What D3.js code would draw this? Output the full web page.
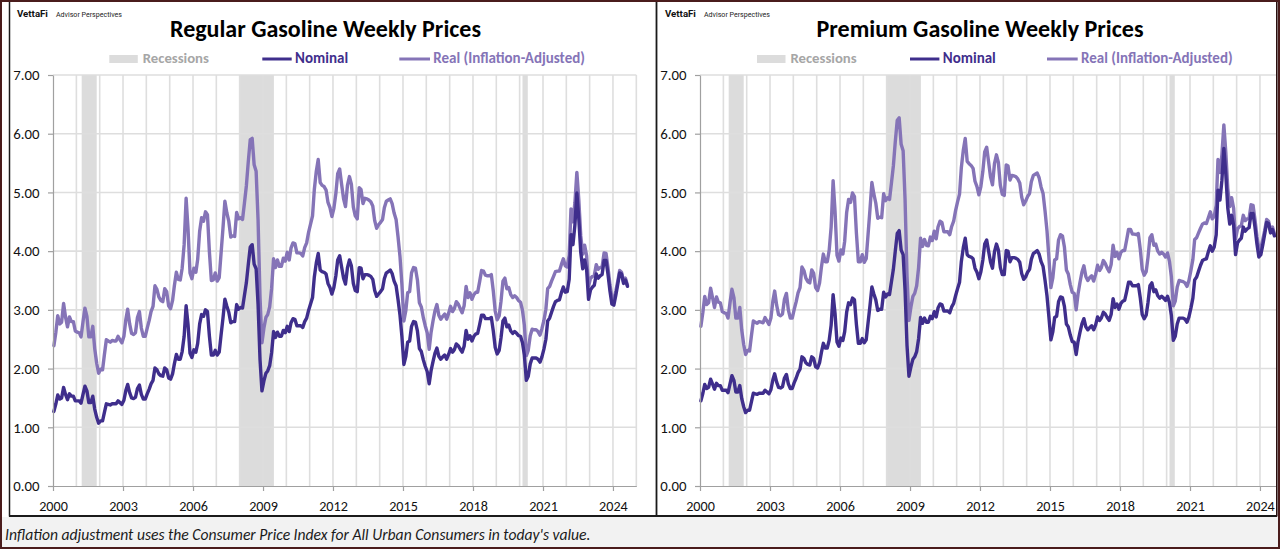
<!DOCTYPE html>
<html><head><meta charset="utf-8">
<script src="https://cdn.jsdelivr.net/npm/d3@7"></script>
<style>html,body{margin:0;padding:0;background:#fff;}svg{display:block}</style>
</head><body>
<svg id="c" width="1280" height="549"></svg>
<script>
// ---- Data (monthly, Jan 2000 - Aug 2024), $ per gallon ----
const startMonth = "2000-01";
const endMonth = "2024-08";

const regularNominal = [
1.27,1.40,1.55,1.48,1.50,1.68,1.56,1.47,1.57,1.53,1.53,1.45,
1.45,1.45,1.41,1.56,1.70,1.62,1.42,1.42,1.53,1.31,1.17,1.07,
1.11,1.11,1.25,1.40,1.39,1.38,1.40,1.40,1.40,1.45,1.42,1.39,
1.46,1.63,1.73,1.59,1.50,1.49,1.51,1.66,1.72,1.56,1.48,1.48,
1.57,1.65,1.74,1.80,2.01,1.98,1.91,1.88,1.87,2.01,1.98,1.84,
1.82,1.91,2.08,2.24,2.16,2.16,2.29,2.55,3.07,2.75,2.26,2.19,
2.32,2.28,2.43,2.76,2.92,2.89,3.00,2.97,2.55,2.23,2.23,2.31,
2.23,2.28,2.56,2.86,3.18,3.06,2.96,2.78,2.80,2.80,3.09,3.01,
3.04,3.03,3.24,3.46,3.77,4.07,4.11,3.78,3.70,3.10,2.15,1.62,
1.79,1.92,1.96,2.05,2.27,2.63,2.53,2.62,2.55,2.55,2.65,2.61,
2.72,2.63,2.78,2.85,2.84,2.73,2.73,2.73,2.70,2.80,2.86,2.99,
3.10,3.21,3.56,3.80,3.96,3.68,3.65,3.64,3.61,3.45,3.38,3.27,
3.38,3.58,3.85,3.92,3.73,3.54,3.44,3.72,3.85,3.75,3.45,3.33,
3.31,3.72,3.71,3.53,3.60,3.60,3.59,3.57,3.52,3.33,3.23,3.27,
3.31,3.36,3.53,3.63,3.65,3.68,3.62,3.49,3.41,3.18,2.91,2.55,
2.07,2.21,2.45,2.47,2.72,2.80,2.79,2.64,2.34,2.29,2.15,2.04,
1.95,1.74,1.96,2.12,2.26,2.35,2.21,2.16,2.20,2.23,2.16,2.24,
2.34,2.28,2.32,2.42,2.39,2.33,2.28,2.38,2.65,2.50,2.56,2.47,
2.55,2.59,2.60,2.75,2.91,2.91,2.85,2.85,2.85,2.87,2.64,2.36,
2.25,2.31,2.52,2.81,2.86,2.71,2.74,2.64,2.60,2.63,2.60,2.56,
2.55,2.44,2.23,1.80,1.87,2.08,2.18,2.18,2.18,2.16,2.11,2.20,
2.33,2.50,2.81,2.86,2.96,3.06,3.14,3.16,3.17,3.29,3.39,3.30,
3.31,3.52,4.28,4.11,4.44,4.99,4.56,3.98,3.70,3.85,3.68,3.18,
3.34,3.39,3.42,3.61,3.54,3.58,3.60,3.84,3.84,3.61,3.32,3.10,
3.08,3.25,3.43,3.63,3.61,3.45,3.51,3.40
];

const regularReal = [
2.39,2.62,2.90,2.76,2.79,3.11,2.88,2.71,2.88,2.80,2.80,2.64,
2.62,2.61,2.54,2.80,3.03,2.89,2.54,2.54,2.72,2.34,2.09,1.92,
1.99,1.98,2.23,2.49,2.47,2.45,2.48,2.47,2.47,2.55,2.49,2.44,
2.55,2.84,3.01,2.76,2.60,2.58,2.61,2.87,2.97,2.69,2.55,2.55,
2.69,2.82,2.97,3.06,3.41,3.35,3.22,3.16,3.14,3.36,3.31,3.07,
3.02,3.16,3.41,3.64,3.52,3.51,3.71,4.11,4.90,4.38,3.63,3.53,
3.71,3.64,3.86,4.34,4.57,4.51,4.67,4.62,3.98,3.50,3.51,3.63,
3.49,3.55,3.95,4.39,4.85,4.65,4.51,4.24,4.26,4.25,4.66,4.55,
4.57,4.54,4.81,5.11,5.52,5.90,5.92,5.47,5.36,4.54,3.21,2.44,
2.69,2.87,2.92,3.05,3.36,3.87,3.72,3.85,3.74,3.74,3.88,3.83,
3.98,3.85,4.05,4.14,4.13,3.97,3.97,3.96,3.92,4.06,4.14,4.32,
4.46,4.60,5.05,5.36,5.56,5.17,5.12,5.10,5.04,4.83,4.74,4.59,
4.73,4.98,5.32,5.40,5.14,4.89,4.76,5.12,5.27,5.14,4.75,4.60,
4.55,5.08,5.05,4.81,4.90,4.89,4.87,4.84,4.77,4.52,4.39,4.45,
4.49,4.54,4.74,4.85,4.87,4.89,4.81,4.65,4.54,4.25,3.91,3.44,
2.81,2.99,3.29,3.31,3.63,3.72,3.71,3.51,3.12,3.05,2.87,2.73,
2.61,2.33,2.61,2.81,2.98,3.09,2.91,2.84,2.89,2.93,2.84,2.94,
3.06,2.97,3.02,3.14,3.10,3.02,2.95,3.07,3.40,3.21,3.29,3.18,
3.26,3.30,3.30,3.48,3.67,3.66,3.59,3.58,3.58,3.60,3.32,2.98,
2.83,2.90,3.14,3.49,3.54,3.36,3.38,3.26,3.21,3.24,3.21,3.16,
3.13,2.99,2.74,2.22,2.31,2.56,2.67,2.66,2.66,2.63,2.57,2.68,
2.82,3.01,3.36,3.40,3.49,3.57,3.65,3.66,3.66,3.77,3.87,3.75,
3.73,3.93,4.72,4.50,4.82,5.34,4.88,4.26,3.95,4.10,3.92,3.40,
3.54,3.57,3.59,3.77,3.69,3.72,3.73,3.97,3.96,3.72,3.43,3.21,
3.17,3.32,3.48,3.67,3.64,3.48,3.54,3.42
];

const premiumNominal = [
1.45,1.58,1.73,1.66,1.68,1.82,1.74,1.65,1.75,1.71,1.71,1.63,
1.63,1.63,1.59,1.74,1.88,1.80,1.60,1.60,1.71,1.49,1.35,1.25,
1.29,1.29,1.43,1.58,1.57,1.56,1.58,1.58,1.58,1.63,1.60,1.57,
1.64,1.81,1.91,1.77,1.68,1.67,1.69,1.84,1.90,1.74,1.66,1.66,
1.76,1.84,1.93,1.99,2.20,2.17,2.10,2.07,2.06,2.20,2.17,2.03,
2.01,2.10,2.27,2.43,2.35,2.35,2.48,2.74,3.26,2.94,2.45,2.38,
2.52,2.48,2.63,2.96,3.12,3.09,3.20,3.17,2.75,2.43,2.43,2.51,
2.44,2.49,2.77,3.07,3.39,3.27,3.17,2.99,3.01,3.01,3.30,3.22,
3.27,3.26,3.47,3.69,4.00,4.30,4.35,4.02,3.94,3.34,2.39,1.87,
2.03,2.16,2.20,2.29,2.51,2.87,2.77,2.86,2.79,2.79,2.89,2.85,
2.97,2.88,3.03,3.10,3.09,2.98,2.98,2.98,2.95,3.05,3.11,3.24,
3.36,3.47,3.82,4.06,4.22,3.94,3.91,3.90,3.87,3.71,3.64,3.53,
3.65,3.85,4.12,4.19,4.00,3.81,3.71,3.99,4.12,4.02,3.72,3.60,
3.60,4.01,4.00,3.82,3.89,3.89,3.88,3.86,3.81,3.62,3.52,3.56,
3.64,3.69,3.86,3.96,3.98,4.01,3.95,3.82,3.74,3.51,3.24,2.88,
2.49,2.63,2.87,2.89,3.14,3.22,3.21,3.06,2.76,2.71,2.57,2.46,
2.45,2.24,2.46,2.62,2.76,2.85,2.71,2.66,2.70,2.73,2.66,2.74,
2.88,2.82,2.86,2.96,2.93,2.87,2.82,2.92,3.19,3.04,3.10,3.01,
3.11,3.15,3.16,3.31,3.47,3.47,3.41,3.41,3.41,3.43,3.20,2.92,
2.85,2.91,3.12,3.41,3.46,3.31,3.34,3.24,3.20,3.23,3.20,3.16,
3.23,3.12,2.91,2.48,2.55,2.76,2.86,2.86,2.86,2.84,2.79,2.88,
3.03,3.20,3.51,3.56,3.66,3.76,3.84,3.86,3.87,3.99,4.09,4.00,
4.07,4.28,5.04,4.87,5.20,5.75,5.32,4.74,4.46,4.61,4.44,3.94,
4.14,4.19,4.22,4.41,4.34,4.38,4.40,4.64,4.64,4.41,4.12,3.90,
3.94,4.11,4.29,4.49,4.47,4.31,4.37,4.26
];

const premiumReal = [
2.72,2.96,3.23,3.09,3.12,3.37,3.21,3.04,3.22,3.13,3.12,2.97,
2.95,2.94,2.86,3.12,3.35,3.21,2.86,2.86,3.04,2.66,2.41,2.24,
2.31,2.30,2.55,2.81,2.79,2.77,2.80,2.79,2.78,2.87,2.81,2.75,
2.86,3.15,3.32,3.08,2.92,2.90,2.93,3.18,3.28,3.00,2.86,2.86,
3.01,3.14,3.29,3.38,3.73,3.67,3.54,3.48,3.46,3.68,3.62,3.38,
3.33,3.46,3.72,3.95,3.82,3.82,4.01,4.41,5.20,4.68,3.93,3.83,
4.02,3.95,4.17,4.66,4.88,4.83,4.99,4.93,4.30,3.82,3.82,3.94,
3.81,3.87,4.27,4.71,5.17,4.97,4.82,4.56,4.58,4.57,4.98,4.86,
4.91,4.88,5.15,5.45,5.86,6.23,6.27,5.82,5.71,4.89,3.57,2.82,
3.05,3.23,3.28,3.41,3.72,4.22,4.08,4.20,4.10,4.09,4.24,4.18,
4.34,4.21,4.41,4.51,4.49,4.33,4.33,4.33,4.28,4.42,4.51,4.69,
4.84,4.97,5.42,5.72,5.92,5.53,5.49,5.46,5.41,5.19,5.10,4.96,
5.10,5.36,5.69,5.77,5.52,5.26,5.13,5.49,5.64,5.51,5.12,4.97,
4.95,5.47,5.45,5.21,5.29,5.28,5.27,5.23,5.16,4.92,4.79,4.85,
4.93,4.98,5.18,5.29,5.31,5.33,5.25,5.09,4.98,4.69,4.35,3.89,
3.38,3.55,3.85,3.87,4.19,4.28,4.26,4.07,3.68,3.61,3.43,3.30,
3.28,3.00,3.27,3.47,3.64,3.75,3.57,3.50,3.55,3.58,3.49,3.60,
3.76,3.67,3.72,3.84,3.79,3.71,3.65,3.77,4.10,3.91,3.98,3.87,
3.98,4.01,4.01,4.19,4.37,4.37,4.29,4.29,4.28,4.30,4.03,3.69,
3.59,3.65,3.89,4.23,4.28,4.10,4.12,4.00,3.95,3.98,3.95,3.90,
3.97,3.82,3.57,3.07,3.15,3.39,3.50,3.49,3.48,3.46,3.40,3.50,
3.67,3.86,4.20,4.23,4.31,4.39,4.46,4.48,4.47,4.57,4.67,4.55,
4.59,4.78,5.56,5.34,5.64,6.15,5.69,5.07,4.76,4.91,4.73,4.21,
4.38,4.42,4.43,4.61,4.52,4.55,4.56,4.79,4.78,4.54,4.25,4.03,
4.05,4.20,4.35,4.54,4.51,4.35,4.41,4.29
];

const recessions = [
  ["2001-03-25", "2001-11-15"],
  ["2008-01-01", "2009-06-20"],
  ["2020-02-15", "2020-05-08"]
];
const xTickYears = [2000, 2003, 2006, 2009, 2012, 2015, 2018, 2021, 2024];
const yTicks = [0, 1, 2, 3, 4, 5, 6, 7];
const legendLabels = ["Recessions", "Nominal", "Real (Inflation-Adjusted)"];
const titles = ["Regular Gasoline Weekly Prices", "Premium Gasoline Weekly Prices"];
const footnote = "Inflation adjustment uses the Consumer Price Index for All Urban Consumers in today's value.";

// ---- Drawing ----
const FONT = "Carlito, Lato, 'Open Sans', sans-serif";
const NOM = "#3f2e8c";
const REAL = "#8574b7";
const GRID = "#dedede";
const REC = "#dcdcdc";
const AXIS = "#a0a0a0";

const svg = d3.select("#c");
const parseM = d3.timeParse("%Y-%m");
const parseD = d3.timeParse("%Y-%m-%d");
const months = d3.timeMonth.range(parseM(startMonth), d3.timeMonth.offset(parseM(endMonth), 1))
  .map(d => d3.timeDay.offset(d, 14));

svg.append("rect").attr("width", 1280).attr("height", 549).attr("fill", "#fff");
svg.append("rect").attr("x", 2).attr("y", 517).attr("width", 1276).attr("height", 30).attr("fill", "#f2f2f2");

function fit(sel, w) {
  const cur = sel.node().getComputedTextLength();
  const fs = parseFloat(sel.attr("font-size"));
  sel.attr("font-size", (fs * w / cur).toFixed(2));
  return sel;
}

const plotTop = 75, plotBottom = 486, plotW = 583.33;
const y = d3.scaleLinear().domain([0, 7]).range([plotBottom, plotTop]);

const panels = [
  {ox: 53, clipR: 656, nominal: regularNominal, real: regularReal, title: titles[0], titleCx: 325.5, titleW: 311, lx: 109.3, logoX: 17},
  {ox: 700, clipR: 1276, nominal: premiumNominal, real: premiumReal, title: titles[1], titleCx: 980, titleW: 327, lx: 757, logoX: 665}
];

panels.forEach((p, pi) => {
  const x = d3.scaleTime().domain([new Date(2000, 0, 1), new Date(2025, 0, 1)]).range([p.ox, p.ox + plotW]);
  const cid = "clip" + pi;
  svg.append("clipPath").attr("id", cid).append("rect")
    .attr("x", p.ox - 60).attr("y", 0).attr("width", p.clipR - p.ox + 60).attr("height", 516);
  const g = svg.append("g").attr("clip-path", `url(#${cid})`);

  // recession bands
  g.selectAll("rect.rec").data(recessions).join("rect").attr("class", "rec")
    .attr("x", d => x(parseD(d[0]))).attr("width", d => x(parseD(d[1])) - x(parseD(d[0])))
    .attr("y", plotTop).attr("height", plotBottom - plotTop).attr("fill", REC);

  // gridlines
  g.selectAll("line.vg").data(d3.range(2001, 2026)).join("line").attr("class", "vg")
    .attr("x1", d => x(new Date(d, 0, 1))).attr("x2", d => x(new Date(d, 0, 1)))
    .attr("y1", plotTop).attr("y2", plotBottom).attr("stroke", GRID).attr("stroke-width", 1.6);
  g.selectAll("line.hg").data(yTicks.filter(v => v > 0)).join("line").attr("class", "hg")
    .attr("x1", p.ox).attr("x2", p.ox + plotW).attr("y1", d => y(d)).attr("y2", d => y(d))
    .attr("stroke", GRID).attr("stroke-width", 1.6);

  // series
  const line = d3.line().x((d, i) => x(months[i])).y(d => y(d));
  g.append("path").datum(p.real).attr("d", line).attr("fill", "none").attr("stroke", REAL)
    .attr("stroke-width", 3.4).attr("stroke-linejoin", "round").attr("stroke-linecap", "round");
  g.append("path").datum(p.nominal).attr("d", line).attr("fill", "none").attr("stroke", NOM)
    .attr("stroke-width", 3.4).attr("stroke-linejoin", "round").attr("stroke-linecap", "round");

  // axes
  const ya = g.append("g").attr("transform", `translate(${p.ox},0)`)
    .call(d3.axisLeft(y).tickValues(yTicks).tickFormat(d3.format(".2f")).tickSize(5).tickSizeOuter(0).tickPadding(8.5));
  const xa = g.append("g").attr("transform", `translate(0,${plotBottom})`)
    .call(d3.axisBottom(x).tickValues(xTickYears.map(v => new Date(v, 0, 1))).tickFormat(d3.timeFormat("%Y")).tickSize(5).tickSizeOuter(0).tickPadding(10));
  [ya, xa].forEach(a => {
    a.select(".domain").attr("stroke", AXIS).attr("stroke-width", 1.2);
    a.selectAll(".tick line").attr("stroke", AXIS).attr("stroke-width", 1.2);
    a.selectAll("text").attr("font-family", FONT).attr("font-size", 14).attr("fill", "#111");
  });
  const y7 = ya.selectAll("text").filter(d => d === 7);
  const ys = 14 * 26.3 / y7.node().getComputedTextLength();
  ya.selectAll("text").attr("font-size", ys.toFixed(2));
  const x0 = xa.select("text");
  const xs = 14 * 28.7 / x0.node().getComputedTextLength();
  xa.selectAll("text").attr("font-size", xs.toFixed(2));

  // title
  fit(svg.append("text").attr("x", p.titleCx).attr("y", 36.5).attr("text-anchor", "middle")
    .attr("font-family", FONT).attr("font-weight", "bold").attr("font-size", 24).attr("fill", "#000")
    .text(p.title), p.titleW);

  // legend
  const L = svg.append("g").attr("transform", `translate(${p.lx},0)`).attr("font-family", FONT).attr("font-weight", "bold");
  L.append("rect").attr("x", 0).attr("y", 55).attr("width", 28.5).attr("height", 8).attr("fill", REC);
  fit(L.append("text").attr("x", 33.4).attr("y", 63.3).attr("font-size", 14).attr("fill", "#a6a6a6").text(legendLabels[0]), 66.3);
  L.append("line").attr("x1", 153).attr("x2", 182.4).attr("y1", 59).attr("y2", 59).attr("stroke", NOM).attr("stroke-width", 3);
  fit(L.append("text").attr("x", 185.8).attr("y", 63.3).attr("font-size", 14).attr("fill", NOM).text(legendLabels[1]), 53);
  L.append("line").attr("x1", 290).attr("x2", 320.7).attr("y1", 59).attr("y2", 59).attr("stroke", REAL).attr("stroke-width", 3);
  fit(L.append("text").attr("x", 324).attr("y", 63.3).attr("font-size", 14).attr("fill", REAL).text(legendLabels[2]), 151.7);

  // logo
  fit(svg.append("text").attr("x", p.logoX).attr("y", 17.3).attr("font-family", "Roboto, 'DejaVu Sans', sans-serif")
    .attr("font-weight", "bold").attr("font-size", 9).attr("fill", "#111").text("VettaFi"), 31);
  fit(svg.append("text").attr("x", p.logoX + 39).attr("y", 17.3).attr("font-family", "Roboto, 'DejaVu Sans', sans-serif")
    .attr("font-size", 6).attr("fill", "#222").text("Advisor Perspectives"), 66);
});

// footnote
fit(svg.append("text").attr("x", 5).attr("y", 540).attr("font-family", FONT).attr("font-style", "italic")
  .attr("font-size", 14).attr("fill", "#1a1a1a").text(footnote), 586);

// frames
const fr = svg.append("g").attr("fill", "none");
fr.append("line").attr("x1", 9.5).attr("x2", 9.5).attr("y1", 2).attr("y2", 516.5).attr("stroke", "#1a1a1a").attr("stroke-width", 1.5);
fr.append("line").attr("x1", 656.5).attr("x2", 656.5).attr("y1", 2).attr("y2", 516.5).attr("stroke", "#1a1a1a").attr("stroke-width", 1.8);
fr.append("line").attr("x1", 9).attr("x2", 1277).attr("y1", 516).attr("y2", 516).attr("stroke", "#1a1a1a").attr("stroke-width", 1.8);
fr.append("line").attr("x1", 1276.8).attr("x2", 1276.8).attr("y1", 2).attr("y2", 516.5).attr("stroke", "#2a1010").attr("stroke-width", 1.6);
fr.append("rect").attr("x", 1).attr("y", 1).attr("width", 1278).attr("height", 547).attr("stroke", "#4a1c1c").attr("stroke-width", 2);
</script>
</body></html>
